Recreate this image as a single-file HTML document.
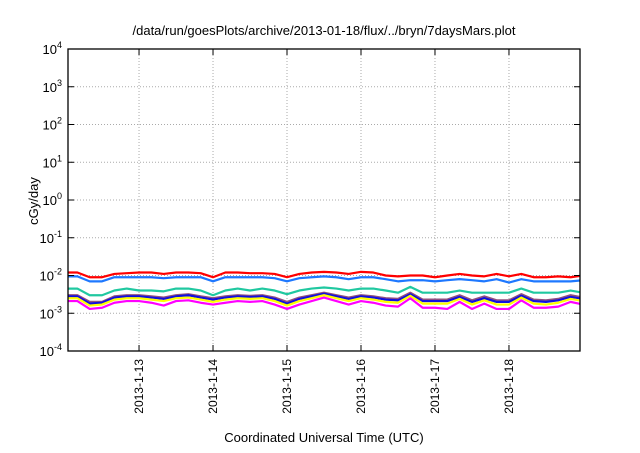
<!DOCTYPE html>
<html><head><meta charset="utf-8"><style>
body{margin:0;background:#fff;font-family:"Liberation Sans",sans-serif}
svg text{font-family:"Liberation Sans",sans-serif;fill:#000}
</style></head><body>
<svg id="c" width="640" height="448">
<text x="324" y="35" text-anchor="middle" font-size="13">/data/run/goesPlots/archive/2013-01-18/flux/../bryn/7daysMars.plot</text>
<text x="324" y="442" text-anchor="middle" font-size="13">Coordinated Universal Time (UTC)</text>
<text transform="translate(38,201) rotate(-90)" text-anchor="middle" font-size="13">cGy/day</text>
<g id="grid"></g><g id="series"></g><g id="axes"></g>
</svg>
<script>
const xTickLabels=["2013-1-13","2013-1-14","2013-1-15","2013-1-16","2013-1-17","2013-1-18"];
const yTickExps=[-4,-3,-2,-1,0,1,2,3,4];
const seriesColors=["#ff0000","#1e78ff","#20c8a0","#905080","#1010e0","#ffff00","#ff00ff"];
const red=[12,12,9,9,11,11.5,12,12,11,12,12,11.5,9,12,12,11.5,11.5,11,9,11,12,12.5,12,11,12.5,12,10,9.5,10,10,9,10,11,10,9.5,11,9.5,11,9,9,9.5,9,10];
const blue=[9.5,9.5,7,7,9,9,9,9,8.5,9,9,9,7,9,9,9,9,8.5,7,8.5,9,9.5,9,8,9,9,8,7,7.5,7.5,7,7.5,8,7.5,7,8,6.5,8,7,7,7,7,7.5];
const teal=[4.5,4.5,3,3,4,4.5,4,4,3.8,4.5,4.5,4,3,4,4.5,4,4.5,4,3.2,4,4.5,4.8,4.5,4,4.5,4.5,4,3.5,5,3.5,3.5,3.5,4,3.5,3.5,3.5,3.5,4.5,3.5,3.5,3.5,4,3.5];
const purple=[3,3,2,2,2.8,3,3,2.8,2.6,3,3.2,2.8,2.5,2.8,3,2.9,3,2.6,2,2.6,3,3.5,3,2.6,3,2.8,2.5,2.4,3.5,2.3,2.3,2.3,3,2.2,2.8,2.2,2.2,3.2,2.3,2.2,2.4,3,2.6];
const darkBlue=[2.8,2.8,1.8,1.9,2.6,2.8,2.8,2.6,2.4,2.8,3,2.6,2.3,2.6,2.8,2.7,2.8,2.4,1.8,2.4,2.8,3.3,2.8,2.4,2.8,2.6,2.3,2.2,3.2,2.1,2.1,2.1,2.7,2,2.5,2,2,2.9,2.1,2,2.2,2.7,2.4];
const yellow=[2.5,2.5,1.6,1.7,2.3,2.5,2.5,2.3,2.1,2.5,2.6,2.3,2,2.3,2.5,2.4,2.5,2.1,1.6,2.1,2.5,3,2.5,2.1,2.5,2.3,2,1.9,2.9,1.8,1.8,1.8,2.4,1.7,2.2,1.7,1.7,2.6,1.8,1.7,1.9,2.4,2.1];
const magenta=[2.1,2.1,1.3,1.4,1.9,2.1,2.1,1.9,1.6,2.1,2.2,1.9,1.7,1.9,2.1,2,2.1,1.7,1.3,1.7,2.1,2.6,2.1,1.7,2.1,1.9,1.6,1.5,2.5,1.4,1.4,1.3,2,1.3,1.8,1.3,1.3,2.2,1.4,1.4,1.5,2,1.7];
const allSeries=[red,blue,teal,purple,darkBlue,yellow,magenta];
const L=68,R=580,T=49,B=351,NS="http://www.w3.org/2000/svg";
const tStart=0.04,tEnd=6.96; // days since 2013-01-12
const xs=d=>L+(d-tStart)/(tEnd-tStart)*(R-L);
const ys=v=>T+(4-Math.log10(v))/8*(B-T);
function mk(tag,a,p){const e=document.createElementNS(NS,tag);for(const k in a)e.setAttribute(k,a[k]);p.appendChild(e);return e;}
const grid=document.getElementById('grid'),axes=document.getElementById('axes'),ser=document.getElementById('series');
xTickLabels.forEach((lab,i)=>{const x=xs(i+1);
 const g=mk('line',{x1:x,x2:x,y1:T,y2:B,stroke:'#aaa','stroke-dasharray':'1,2','stroke-width':1},grid);
 
 mk('line',{x1:x,x2:x,y1:B,y2:B-6,stroke:'#000'},axes);mk('line',{x1:x,x2:x,y1:T,y2:T+6,stroke:'#000'},axes);
 const t=mk('text',{transform:`translate(${x+4},${B+8}) rotate(-90)`,'text-anchor':'end','font-size':12},axes);t.textContent=lab;
 });
yTickExps.forEach(e=>{const y=ys(Math.pow(10,e));
 if(e>-4&&e<4){const g=mk('line',{x1:L,x2:R,y1:y,y2:y,stroke:'#aaa','stroke-dasharray':'1,2','stroke-width':1},grid);
 }
 mk('line',{x1:L,x2:L+6,y1:y,y2:y,stroke:'#000'},axes);mk('line',{x1:R,x2:R-6,y1:y,y2:y,stroke:'#000'},axes);
 const t=mk('text',{x:L-6,y:y+5,'text-anchor':'end','font-size':13},axes);
 t.innerHTML='10<tspan dy="-6" font-size="9">'+e+'</tspan>';
 });
allSeries.forEach((s,k)=>{const pts=s.map((v,i)=>xs(i*4/24)+','+ys(v*1e-3)).join(' ');
 const p=mk('polyline',{points:pts,fill:'none',stroke:seriesColors[k],'stroke-width':2.2,'stroke-linejoin':'round'},ser);
 });
const cp=mk('clipPath',{id:'cp'},document.getElementById('c'));mk('rect',{x:L,y:T,width:R-L,height:B-T},cp);
ser.setAttribute('clip-path','url(#cp)');
const fr=mk('rect',{x:L,y:T,width:R-L,height:B-T,fill:'none',stroke:'#000','stroke-width':1.3},axes);

</script>
</body></html>
